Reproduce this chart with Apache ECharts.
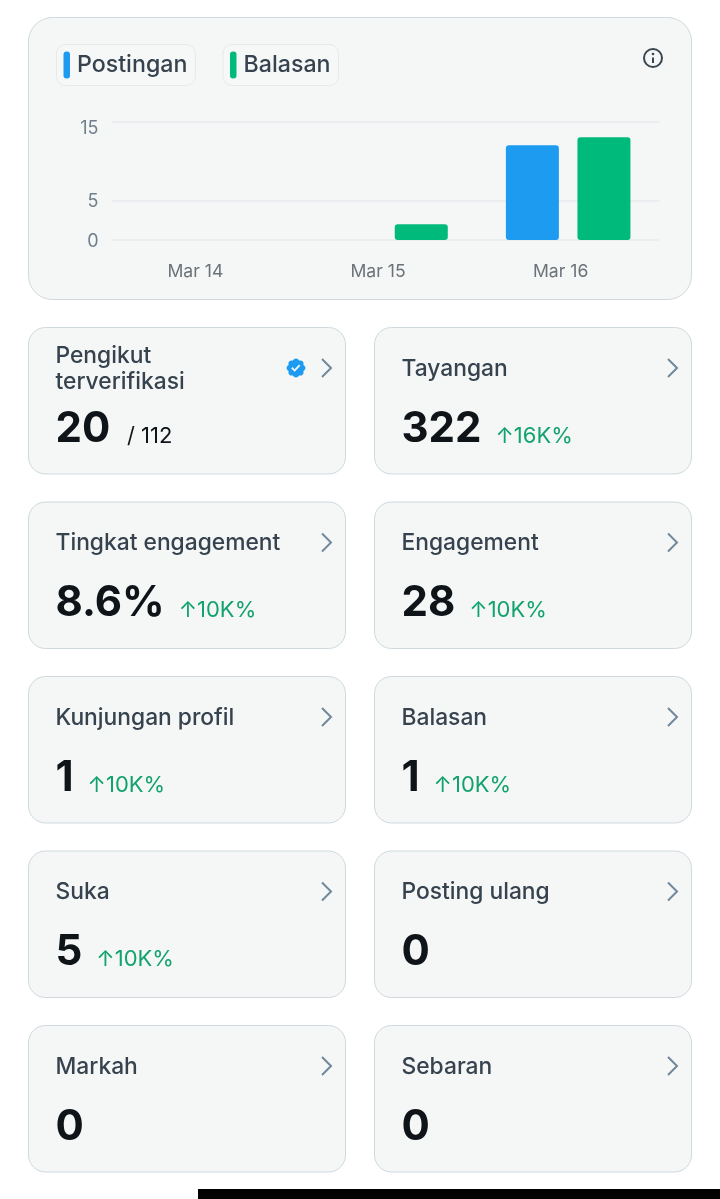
<!DOCTYPE html>
<html><head><meta charset="utf-8">
<style>html,body{margin:0;padding:0;background:#fff}#c{width:720px;height:1199px}</style>
<script src="https://cdn.jsdelivr.net/npm/echarts@6/dist/echarts.min.js"></script>
</head><body><div id="c"></div>
<script>
const categories = ['Mar 14', 'Mar 15', 'Mar 16'];
const postingan = [0, 0, 12];
const balasan = [0, 2, 13];
const yTicks = [0, 5, 15];
const metricLabels = [['Pengikut', 'terverifikasi'], ['Tayangan'], ['Tingkat engagement'], ['Engagement'], ['Kunjungan profil'], ['Balasan'], ['Suka'], ['Posting ulang'], ['Markah'], ['Sebaran']];
const metricValues = ['20', '322', '8.6%', '28', '1', '1', '5', '0', '0', '0'];
const metricChanges = ['', '16K%', '10K%', '10K%', '10K%', '10K%', '10K%', '', '', ''];

const FONT = 'Inter, "Noto Sans", sans-serif';
const CARD = '#f5f7f7', EDGE = '#cfd9de', INK = '#0f1419', LABEL = '#36434e', GREEN = '#12a26d', CHEV = '#71889a';
const BLUE = '#1d9bf0', TEAL = '#00ba7c';
const pill = 'path://M3 0h.5a3 3 0 0 1 3 3v21a3 3 0 0 1-3 3H3a3 3 0 0 1-3-3V3a3 3 0 0 1 3-3z';
const badge = 'M22.25 12c0-1.43-.88-2.67-2.19-3.34.46-1.39.2-2.9-.81-3.91s-2.52-1.27-3.91-.81c-.66-1.31-1.91-2.19-3.34-2.19s-2.67.88-3.33 2.19c-1.4-.46-2.91-.2-3.92.81s-1.26 2.52-.8 3.91c-1.31.67-2.2 1.91-2.2 3.34s.89 2.67 2.2 3.34c-.46 1.39-.21 2.9.8 3.91s2.52 1.26 3.91.81c.67 1.31 1.91 2.19 3.34 2.19s2.68-.88 3.34-2.19c1.39.45 2.9.2 3.91-.81s1.27-2.52.81-3.91c1.31-.67 2.19-1.91 2.19-3.34zm-11.71 4.2L6.8 12.46l1.41-1.42 2.26 2.26 4.8-5.23 1.47 1.36-6.2 6.77z';

echarts.graphic.registerShape('verifiedBadge', echarts.graphic.extendPath(badge, {}));

const mctx = document.createElement('canvas').getContext('2d');
function tw(text, font) { mctx.font = font; return mctx.measureText(text).width; }
function txt(text, x, y, size, weight, fill, align) {
  return { type: 'text', z: 1, x, y, style: { text, font: `${weight} ${size}px ${FONT}`, fill, align: align || 'left', verticalAlign: 'middle' } };
}

const g = [];
// outer chart card
g.push({ type: 'rect', z: -1, shape: { x: 28.5, y: 17.5, width: 663, height: 282, r: 24 }, style: { fill: CARD, stroke: EDGE, lineWidth: 1 } });
// info icon
g.push({ type: 'circle', z: 1, shape: { cx: 653, cy: 58, r: 9 }, style: { fill: 'none', stroke: '#3a4650', lineWidth: 2 } });
g.push({ type: 'circle', z: 1, shape: { cx: 653, cy: 54, r: 1.3 }, style: { fill: '#3a4650' } });
g.push({ type: 'line', z: 1, shape: { x1: 653, y1: 57.5, x2: 653, y2: 63 }, style: { stroke: '#3a4650', lineWidth: 2 } });

// metric cards
metricLabels.forEach((lines, i) => {
  const col = i % 2, row = Math.floor(i / 2);
  const x = col ? 374 : 28, y = 327 + row * 174.5;
  g.push({ type: 'rect', z: 0, shape: { x: x + .5, y: y + .5, width: 317, height: 146.5, r: 17 }, style: { fill: CARD, stroke: EDGE, lineWidth: 1 } });
  if (lines.length > 1) {
    g.push(txt(lines[0], x + 27.5, y + 29, 22.8, 500, LABEL));
    g.push(txt(lines[1], x + 27.5, y + 55, 22.8, 500, LABEL));
  } else {
    g.push(txt(lines[0], x + 27.5, y + 42, 22.8, 500, LABEL));
  }
  g.push({ type: 'polyline', z: 1, shape: { points: [[x + 294, y + 32], [x + 303, y + 41], [x + 294, y + 50]] }, style: { fill: 'none', stroke: CHEV, lineWidth: 2 } });
  const vFont = `700 42px ${FONT}`;
  g.push(txt(metricValues[i], x + 27.5, y + 102, 42, 700, INK));
  const vw = tw(metricValues[i], vFont);
  if (metricChanges[i]) {
    g.push(txt('↑' + metricChanges[i], x + 27.5 + vw + 14, y + 109, 22, 400, GREEN));
  }
});
// verified badge + denominator on the first card
g.push({ type: 'verifiedBadge', z: 1, x: 285, y: 357, scaleX: 22 / 24, scaleY: 22 / 24, style: { fill: BLUE } });
g.push(txt('/ 112', 127, 436, 22, 400, INK));
// black strip at the bottom of the screenshot
g.push({ type: 'rect', z: 1, shape: { x: 198, y: 1189, width: 522, height: 10 }, style: { fill: '#000' } });

const legendBase = {
  top: 44.5, itemWidth: 6.5, itemHeight: 27, itemGap: 0, icon: pill, selectedMode: false,
  backgroundColor: '#f6f8f8', borderColor: '#e6eaed', borderWidth: 1, borderRadius: 9,
  textStyle: { fontFamily: FONT, fontSize: 23.2, fontWeight: 500, color: LABEL, padding: [5, 0, 0, 2] }
};

const chart = echarts.init(document.getElementById('c'), null, { renderer: 'canvas', width: 720, height: 1199 });
chart.setOption({
  animation: false,
  backgroundColor: '#fff',
  textStyle: { fontFamily: FONT },
  legend: [
    Object.assign({}, legendBase, { left: 56.5, padding: [7, 8, 7, 7], data: ['Postingan'] }),
    Object.assign({}, legendBase, { left: 223, padding: [7, 8, 7, 7], data: ['Balasan'] })
  ],
  grid: { left: 111.5, right: 60.5, top: 121.5, height: 118.5, containLabel: false },
  xAxis: {
    type: 'category', data: categories,
    axisLine: { show: false }, axisTick: { show: false },
    axisLabel: { color: '#6b7278', fontSize: 17.6, margin: 23, fontFamily: FONT, padding: [0, 15, 0, 0] }
  },
  yAxis: {
    type: 'value', min: 0, max: 15,
    axisLine: { show: false },
    axisTick: { show: false, customValues: yTicks },
    axisLabel: {
      customValues: yTicks, color: '#6f7f8c', fontSize: 18, margin: 13, fontFamily: FONT,
      formatter: v => '{' + (v === 15 ? 'a' : 'b') + '|' + v + '}',
      rich: {
        a: { color: '#6f7f8c', fontSize: 18, fontFamily: FONT, padding: [14, 0, 0, 0] },
        b: { color: '#6f7f8c', fontSize: 18, fontFamily: FONT, padding: [3, 0, 0, 0] }
      }
    },
    splitLine: { show: true, lineStyle: { color: '#e6ebef', width: 1.5 } }
  },
  graphic: g,
  series: [
    { name: 'Postingan', type: 'bar', data: postingan, barWidth: 53, barGap: '35%', itemStyle: { color: BLUE, borderRadius: 3 } },
    { name: 'Balasan', type: 'bar', data: balasan, barWidth: 53, barGap: '35%', itemStyle: { color: TEAL, borderRadius: 3 } }
  ]
});
</script></body></html>
